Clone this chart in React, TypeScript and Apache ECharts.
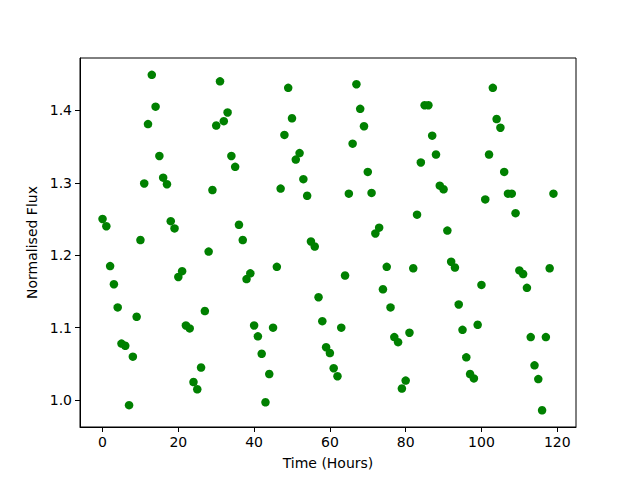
import React, { useEffect, useRef } from "react";
import * as echarts from "echarts";

const hours: number[] = Array.from({ length: 120 }, (_, i) => i);
const flux: number[] = [
  1.25, 1.24, 1.185, 1.16, 1.128, 1.078, 1.075, 0.993, 1.06, 1.115,
  1.221, 1.299, 1.381, 1.449, 1.405, 1.337, 1.307, 1.298, 1.247, 1.237,
  1.17, 1.178, 1.103, 1.099, 1.025, 1.015, 1.045, 1.123, 1.205, 1.29,
  1.379, 1.44, 1.385, 1.397, 1.337, 1.322, 1.242, 1.221, 1.167, 1.175,
  1.103, 1.088, 1.064, 0.997, 1.036, 1.1, 1.184, 1.292, 1.366, 1.431,
  1.389, 1.332, 1.341, 1.305, 1.282, 1.219, 1.212, 1.142, 1.109, 1.073,
  1.065, 1.044, 1.033, 1.1, 1.172, 1.285, 1.354, 1.436, 1.402, 1.378,
  1.315, 1.286, 1.23, 1.238, 1.153, 1.184, 1.128, 1.087, 1.08, 1.016,
  1.027, 1.093, 1.182, 1.256, 1.328, 1.407, 1.407, 1.365, 1.339, 1.296,
  1.291, 1.234, 1.191, 1.183, 1.132, 1.097, 1.059, 1.036, 1.03, 1.104,
  1.159, 1.277, 1.339, 1.431, 1.388, 1.376, 1.315, 1.285, 1.285, 1.258,
  1.179, 1.174, 1.155, 1.087, 1.048, 1.029, 0.986, 1.087, 1.182, 1.285,
];
const xTicks: number[] = [0, 20, 40, 60, 80, 100, 120];
const yTicks: number[] = [1.0, 1.1, 1.2, 1.3, 1.4];

export default function App() {
  const ref = useRef<HTMLDivElement>(null);
  useEffect(() => {
    if (!ref.current) return;
    const chart = echarts.init(ref.current, undefined, { renderer: "svg" });
    const font = "DejaVu Sans";
    chart.setOption({
      animation: false,
      backgroundColor: "#ffffff",
      grid: {
        left: 80,
        right: 64,
        top: 58,
        bottom: 53,
        show: true,
        borderColor: "#000000",
        borderWidth: 1,
        backgroundColor: "transparent",
      },
      xAxis: {
        type: "value",
        min: -5.95,
        max: 124.95,
        name: "Time (Hours)",
        nameLocation: "middle",
        nameGap: 29,
        nameTextStyle: { fontFamily: font, fontSize: 14, color: "#000" },
        axisLine: { show: true, onZero: false, lineStyle: { color: "#000", width: 1 } },
        axisTick: {
          show: true,
          length: 5,
          inside: false,
          customValues: xTicks,
          lineStyle: { color: "#000" },
        },
        axisLabel: {
          customValues: xTicks,
          margin: 8,
          fontFamily: font,
          fontSize: 14,
          color: "#000",
        },
        splitLine: { show: false },
      },
      yAxis: {
        type: "value",
        min: 0.9629,
        max: 1.4722,
        name: "Normalised Flux",
        nameLocation: "middle",
        nameGap: 38,
        nameTextStyle: { fontFamily: font, fontSize: 14, color: "#000" },
        axisLine: { show: true, onZero: false, lineStyle: { color: "#000", width: 1 } },
        axisTick: {
          show: true,
          length: 5,
          inside: false,
          customValues: yTicks,
          lineStyle: { color: "#000" },
        },
        axisLabel: {
          customValues: yTicks,
          margin: 8,
          fontFamily: font,
          fontSize: 14,
          color: "#000",
          formatter: (v: number) => v.toFixed(1),
        },
        splitLine: { show: false },
      },
      series: [
        {
          type: "scatter",
          data: hours.map((h, i) => [h, flux[i]]),
          symbol: "circle",
          symbolSize: 8.5,
          itemStyle: { color: "#008000", opacity: 1 },
        },
      ],
    });
    return () => chart.dispose();
  }, []);
  return (
    <div
      ref={ref}
      style={{ position: "fixed", left: 0, top: 0, width: 640, height: 480 }}
    />
  );
}
